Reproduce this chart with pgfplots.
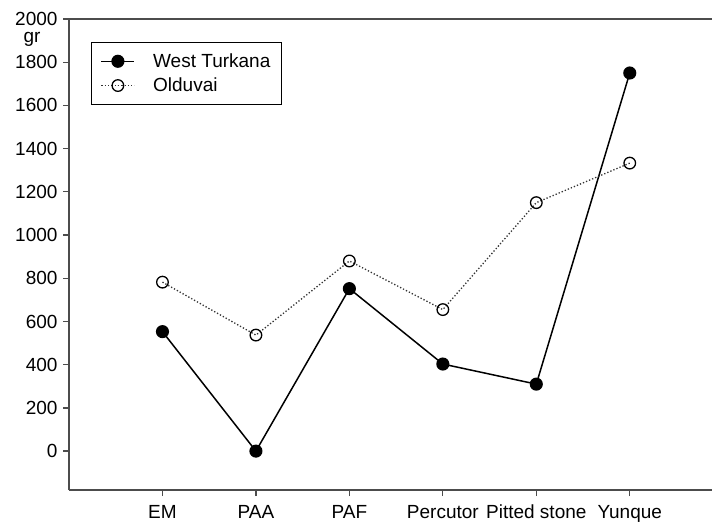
\documentclass[border=0pt]{standalone}
\usepackage{fontspec}
\setmainfont{Liberation Sans}
\usepackage{pgfplots}
\pgfplotsset{compat=1.18}
\begin{document}
\begin{tikzpicture}
\begin{axis}[
  name=ax,
  scale only axis, width=643pt, height=471pt,
  xmin=0, xmax=6.88, ymin=-180, ymax=2000,
  axis x line*=box, axis y line*=left,
  xtick pos=bottom, ytick pos=left,
  axis line style={black!70, line width=1.5pt},
  xtick={1,2,3,4,5,6},
  xticklabels={EM,PAA,PAF,Percutor,Pitted stone,Yunque},
  ytick={0,200,...,2000},
  tick align=outside, major tick length=6pt,
  tick style={black!70, line width=1.3pt},
  /pgf/number format/assume math mode=true,
  /pgf/number format/1000 sep={},
  tick label style={font=\fontsize{19}{21}\selectfont},
  yticklabel style={xshift=-2pt},
  xticklabel style={yshift=-5pt, text height=14pt, text depth=4pt},
  clip=false,
  legend style={at={(rel axis cs:0,1)}, anchor=north west, xshift=22pt, yshift=-23pt,
    draw=black, line width=1.3pt, inner xsep=9pt, inner ysep=9pt,
    font=\fontsize{19}{21}\selectfont, row sep=5pt, column sep=16pt,
    cells={anchor=west}},
  legend image code/.code={\draw[mark repeat=2,mark phase=2,#1] plot coordinates {(0pt,0pt) (16.5pt,0pt) (33pt,0pt)};},
]
\addplot[black, line width=1.5pt, mark=*, mark size=5.8pt, mark options={solid, fill=black}]
  coordinates {(1,553) (2,0) (3,752) (4,403) (5,310) (6,1750)};
\addlegendentry{West Turkana}
\addplot[black!80, line width=1.3pt, dotted, mark=o, mark size=5.8pt, mark options={solid, fill=white, black, line width=1.3pt}]
  coordinates {(1,782) (2,537) (3,880) (4,655) (5,1150) (6,1333)};
\addlegendentry{Olduvai}
\node[font=\fontsize{19}{21}\selectfont, anchor=base] at (rel axis cs:0,1) [xshift=-37pt, yshift=-24pt] {gr};
\end{axis}
\pgfresetboundingbox
\path[use as bounding box] ([xshift=-69pt,yshift=-34pt]ax.south west) rectangle ([yshift=19pt]ax.north east);
\end{tikzpicture}
\end{document}
